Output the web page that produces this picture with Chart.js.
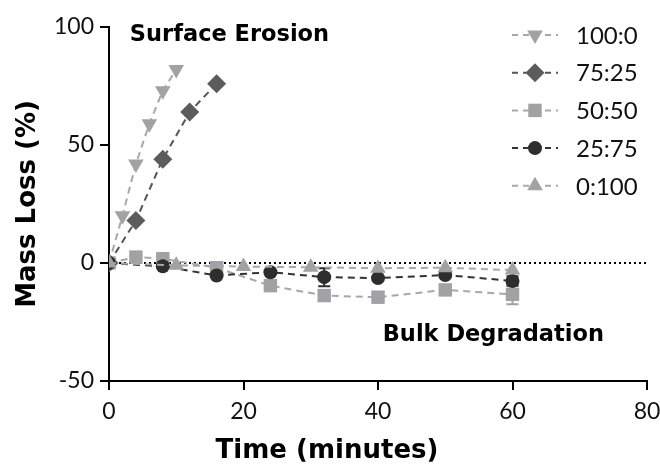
<!DOCTYPE html>
<html>
<head>
<meta charset="utf-8">
<script src="https://cdn.jsdelivr.net/npm/chart.js@4.4.1/dist/chart.umd.min.js"></script>
<style>
  html, body { margin: 0; padding: 0; background: #ffffff; }
  #wrap { width: 660px; height: 469px; position: relative; }
</style>
</head>
<body>
<div id="wrap"><canvas id="c" width="660" height="469"></canvas></div>
<script>
// ---- Data ----
const seriesNames = ['100:0', '75:25', '50:50', '25:75', '0:100'];

const time100_0 = [0, 2, 4, 6, 8, 10];
const loss100_0 = [0, 20, 42, 59, 73, 82];

const time75_25 = [0, 4, 8, 12, 16];
const loss75_25 = [0, 18, 44, 64, 76];

const time50_50 = [0, 4, 8, 16, 24, 32, 40, 50, 60];
const loss50_50 = [0, 2.5, 1.8, -2, -9.6, -13.8, -14.5, -11.4, -13.3];
const err50_50  = [0, 0, 0, 0, 0.8, 1, 1, 1, 4.2];

const time25_75 = [0, 8, 16, 24, 32, 40, 50, 60];
const loss25_75 = [0, -1.4, -5.3, -3.9, -6, -6.4, -5.1, -7.6];
const err25_75  = [0, 0, 0, 0, 3.8, 0.8, 0.8, 2];

const time0_100 = [0, 10, 20, 30, 40, 50, 60];
const loss0_100 = [0, -1, -1.5, -1.8, -2.2, -2, -3];

const xTicks = [0, 20, 40, 60, 80];
const yTicks = [-50, 0, 50, 100];

const xTitle = 'Time (minutes)';
const yTitle = 'Mass Loss (%)';

const annotations = [
  { text: 'Surface Erosion', x: 3.1, y: 96.5 },
  { text: 'Bulk Degradation', x: 40.7, y: -30.5 }
];

// ---- Build chart ----
const FONT = 'Lato, "Open Sans", sans-serif';
const BOLDFONT = '"DejaVu Sans", Lato, sans-serif';
const LIGHT = '#a2a2a6';
const MID = '#5c5c5c';
const DARK = '#2e2e2e';

function pts(xs, ys) { return xs.map((x, i) => ({ x: x, y: ys[i] })); }

const styles = [
  { color: LIGHT, line: '#a8a8a8', pointStyle: 'triangle', rot: 180, r: 9 },
  { color: MID, line: '#555555', pointStyle: 'rectRot', rot: 0, r: 9.5 },
  { color: LIGHT, line: '#a8a8a8', pointStyle: 'rect', rot: 0, r: 9.5 },
  { color: DARK, line: '#333333', pointStyle: 'circle', rot: 0, r: 7 },
  { color: LIGHT, line: '#a8a8a8', pointStyle: 'triangle', rot: 0, r: 9 }
];
const allTimes = [time100_0, time75_25, time50_50, time25_75, time0_100];
const allLoss = [loss100_0, loss75_25, loss50_50, loss25_75, loss0_100];
const allErr = [null, null, err50_50, err25_75, null];

const datasets = seriesNames.map((name, i) => ({
  label: name,
  data: pts(allTimes[i], allLoss[i]),
  borderColor: styles[i].line,
  backgroundColor: styles[i].color,
  pointBackgroundColor: styles[i].color,
  pointBorderColor: styles[i].color,
  pointBorderWidth: 0,
  borderWidth: 2,
  borderDash: [7, 5],
  pointStyle: styles[i].pointStyle,
  pointRotation: styles[i].rot,
  pointRadius: styles[i].r,
  fill: false,
  tension: 0,
  order: 5 - i,
  errors: allErr[i]
}));

// dotted zero line
datasets.push({
  label: '_zero',
  data: [{ x: xTicks[0], y: 0 }, { x: xTicks[xTicks.length - 1], y: 0 }],
  borderColor: '#000000',
  borderWidth: 2,
  borderDash: [2, 3],
  pointRadius: 0,
  fill: false,
  order: 20
});

const errorBarPlugin = {
  id: 'errorBars',
  beforeDatasetsDraw(chart) {
    const ctx = chart.ctx;
    const xs = chart.scales.x, ys = chart.scales.y;
    chart.data.datasets.forEach((ds) => {
      if (!ds.errors) return;
      ctx.save();
      ctx.strokeStyle = ds.pointBackgroundColor;
      ctx.lineWidth = 2;
      ds.data.forEach((p, j) => {
        const e = ds.errors[j];
        if (!e) return;
        const px = xs.getPixelForValue(p.x);
        const y1 = ys.getPixelForValue(p.y - e);
        const y2 = ys.getPixelForValue(p.y + e);
        ctx.beginPath();
        ctx.moveTo(px, y1); ctx.lineTo(px, y2);
        ctx.moveTo(px - 6, y1); ctx.lineTo(px + 6, y1);
        ctx.moveTo(px - 6, y2); ctx.lineTo(px + 6, y2);
        ctx.stroke();
      });
      ctx.restore();
    });
  }
};

const legendPlugin = {
  id: 'customLegend',
  afterDraw(chart) {
    const ctx = chart.ctx;
    const x0 = 535, y0 = 35, dy = 37.7;
    chart.data.datasets.forEach((ds, i) => {
      if (ds.label.startsWith('_')) return;
      const y = y0 + i * dy;
      ctx.save();
      ctx.strokeStyle = ds.borderColor;
      ctx.lineWidth = 2;
      ctx.setLineDash([6, 5]);
      ctx.beginPath();
      ctx.moveTo(x0 - 23, y); ctx.lineTo(x0 + 23, y);
      ctx.stroke();
      ctx.setLineDash([]);
      ctx.fillStyle = ds.pointBackgroundColor;
      ctx.strokeStyle = ds.pointBorderColor;
      Chart.helpers.drawPoint(ctx, {
        pointStyle: ds.pointStyle,
        rotation: ds.pointRotation,
        radius: ds.pointRadius,
        borderWidth: 0
      }, x0, y);
      ctx.fillStyle = '#111111';
      ctx.font = '24px ' + FONT;
      ctx.textAlign = 'left';
      ctx.textBaseline = 'middle';
      ctx.fillText(ds.label, 576, y + 1);
      ctx.restore();
    });
  }
};

const annotationPlugin = {
  id: 'annot',
  afterDraw(chart) {
    const ctx = chart.ctx;
    const xs = chart.scales.x, ys = chart.scales.y;
    ctx.save();
    ctx.fillStyle = '#000000';
    ctx.font = 'bold 22.5px ' + BOLDFONT;
    ctx.textAlign = 'left';
    ctx.textBaseline = 'middle';
    annotations.forEach(a => {
      ctx.fillText(a.text, xs.getPixelForValue(a.x), ys.getPixelForValue(a.y));
    });
    // x-axis title, centred on the whole figure as in the reference
    ctx.font = 'bold 26px ' + BOLDFONT;
    ctx.textAlign = 'center';
    ctx.fillText(xTitle, chart.width / 2 - 3, 451);
    ctx.restore();
  }
};

new Chart(document.getElementById('c'), {
  type: 'line',
  data: { datasets: datasets },
  options: {
    responsive: false,
    animation: false,
    layout: { padding: { top: 27, right: 13, left: 0, bottom: 0 } },
    plugins: {
      legend: { display: false },
      tooltip: { enabled: false }
    },
    scales: {
      x: {
        type: 'linear',
        min: xTicks[0],
        max: xTicks[xTicks.length - 1],
        afterBuildTicks: (s) => { s.ticks = xTicks.map(v => ({ value: v })); },
        afterFit: (s) => { s.height = 88; s.paddingLeft = 0; s.paddingRight = 0; },
        border: { display: true, color: '#000000', width: 2 },
        grid: { drawOnChartArea: false, drawTicks: true, tickLength: 9, color: '#000000', lineWidth: 2 },
        ticks: { color: '#111111', font: { family: FONT, size: 23 }, padding: 8, maxRotation: 0 },
        title: { display: false }
      },
      y: {
        type: 'linear',
        min: yTicks[0],
        max: yTicks[yTicks.length - 1],
        afterBuildTicks: (s) => { s.ticks = yTicks.map(v => ({ value: v })); },
        afterFit: (s) => { s.width = 109; s.paddingTop = 0; s.paddingBottom = 0; },
        border: { display: true, color: '#000000', width: 2 },
        grid: { drawOnChartArea: false, drawTicks: true, tickLength: 9, color: '#000000', lineWidth: 2 },
        ticks: { color: '#111111', font: { family: FONT, size: 23 }, padding: 6 },
        title: { display: true, text: yTitle, color: '#000000', font: { family: BOLDFONT, size: 26, weight: 'bold' }, padding: { top: 13, bottom: 0 } }
      }
    }
  },
  plugins: [errorBarPlugin, legendPlugin, annotationPlugin]
});
</script>
</body>
</html>
